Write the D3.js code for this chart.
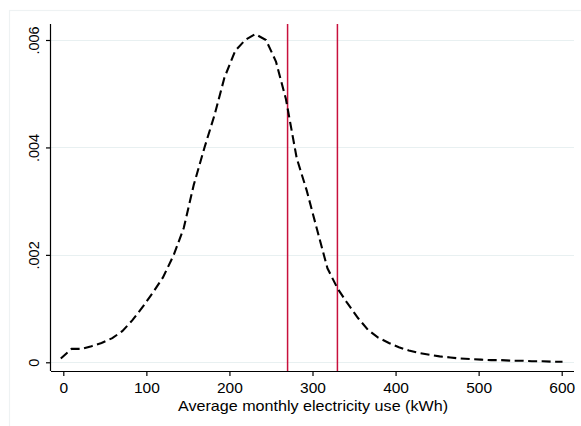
<!DOCTYPE html>
<html>
<head>
<meta charset="utf-8">
<script src="https://cdn.jsdelivr.net/npm/d3@7"></script>
<style>
html,body{margin:0;padding:0;background:#fff;}
svg{display:block;}
text{font-family:"Liberation Sans",Arial,Helvetica,sans-serif;fill:#000;}
</style>
</head>
<body>
<svg id="chart" width="581" height="426"></svg>
<script>
// Kernel density estimate
const kwh = [-3,10,22,34,46,59,71,83,96,108,120,133,145,157,170,182,194,207,219,231,244,256,268,281,293,305,318,330,342,355,367,379,392,404,416,429,441,453,466,478,490,503,515,527,540,552,564,577,589,601];
const density = [0.00007,0.00025,0.00025,0.00030,0.00036,0.00045,0.00058,0.00078,0.00104,0.00130,0.00158,0.00200,0.00250,0.00330,0.00400,0.00460,0.00530,0.00580,0.00600,0.00611,0.00600,0.00560,0.00490,0.00380,0.00320,0.00250,0.00175,0.00138,0.00110,0.00082,0.00060,0.00046,0.00036,0.00028,0.00022,0.00017,0.00014,0.00011,0.00009,0.00007,0.00006,0.00005,0.00004,0.00004,0.00003,0.00003,0.00002,0.00002,0.00001,0.00001];
const refLines = [270, 330];
const xTicks = [0,100,200,300,400,500,600];
const yTicks = [0,0.002,0.004,0.006];
const yTickLabels = ["0",".002",".004",".006"];
const xTitle = "Average monthly electricity use (kWh)";

const svg = d3.select("#chart");
svg.append("rect").attr("x",0).attr("y",0).attr("width",581).attr("height",426).attr("fill","#fff");
// outer graph region frame
svg.append("rect").attr("x",9.5).attr("y",10.5).attr("width",600).attr("height",430)
  .attr("fill","#fff").attr("stroke","#eef2f3").attr("stroke-width",1.2);

const x = d3.scaleLinear().domain([0,600]).range([63.3,561.7]);
const y = d3.scaleLinear().domain([0,0.006]).range([362.3,40]);
const plotL = 51, plotR = 574, plotT = 24, plotB = 371;

// gridlines
svg.append("g").selectAll("line").data(yTicks).join("line")
  .attr("x1",plotL).attr("x2",plotR)
  .attr("y1",d=>Math.round(y(d))+0.5).attr("y2",d=>Math.round(y(d))+0.5)
  .attr("stroke","#e8f0f1").attr("stroke-width",1.2);

// reference lines
svg.append("g").selectAll("line").data(refLines).join("line")
  .attr("x1",d=>x(d)).attr("x2",d=>x(d))
  .attr("y1",plotT).attr("y2",plotB)
  .attr("stroke","#c8103c").attr("stroke-width",1.5);

// density curve
const line = d3.line().x((d,i)=>x(kwh[i])).y(d=>y(d));
svg.append("path").datum(density)
  .attr("d",line)
  .attr("fill","none").attr("stroke","#000").attr("stroke-width",2.1)
  .attr("stroke-dasharray","9,4.5");

// x axis
const xAxis = d3.axisBottom(x).tickValues(xTicks).tickSize(5).tickPadding(4).tickFormat(d3.format("d"));
const gx = svg.append("g").attr("transform",`translate(0,${plotB})`).call(xAxis);
gx.select(".domain").attr("d",`M${plotL},0.5H${plotR}`).attr("stroke","#000").attr("stroke-width",1.2);
gx.selectAll(".tick line").attr("stroke","#000").attr("stroke-width",1.2);
gx.selectAll(".tick text").attr("font-size","15.5px").attr("font-family","'Liberation Sans',Arial,sans-serif")
  .attr("dy",null).attr("y",21.5);

// y axis
const yAxis = d3.axisLeft(y).tickValues(yTicks).tickSize(5).tickFormat((d,i)=>yTickLabels[i]);
const gy = svg.append("g").attr("transform",`translate(${plotL},0)`).call(yAxis);
gy.select(".domain").attr("d",`M-0.5,${plotT}V${plotB}`).attr("stroke","#000").attr("stroke-width",1.2);
gy.selectAll(".tick line").attr("stroke","#000").attr("stroke-width",1.2);
gy.selectAll(".tick text")
  .attr("font-size","14.5px").attr("font-family","'Liberation Sans',Arial,sans-serif")
  .attr("x",null).attr("dy",null)
  .attr("text-anchor","middle")
  .attr("transform","translate(-12,0) rotate(-90)");

// x title
svg.append("text").attr("x",313).attr("y",411).attr("text-anchor","middle")
  .attr("font-size","15px").attr("textLength",270).attr("lengthAdjust","spacingAndGlyphs")
  .text(xTitle);
</script>
</body>
</html>
